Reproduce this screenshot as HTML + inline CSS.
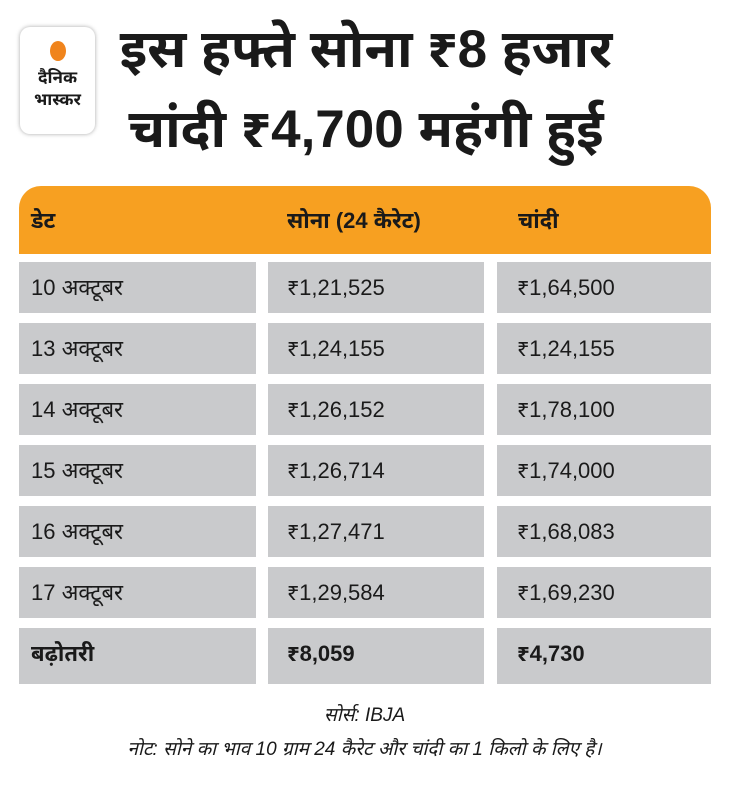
<!DOCTYPE html>
<html><head><meta charset="utf-8"><style>
body{margin:0;width:729px;height:792px;background:#fff;font-family:"Liberation Sans","Noto Sans Devanagari","Lohit Devanagari",sans-serif;position:relative;overflow:hidden;color:#1a1a1a}
.abs{position:absolute}
.logo{left:20px;top:27px;width:75px;height:107px;border-radius:10px;background:#fff;box-shadow:0 0 4px rgba(0,0,0,.35)}
.dot{left:30px;top:14px;width:16px;height:20px;border-radius:50%;background:#f0841c}
.lt{width:75px;text-align:center;font-weight:bold;font-size:17px;line-height:18px}
.title{left:60px;width:612px;text-align:center;font-weight:bold;font-size:53px;line-height:60px;white-space:nowrap}
.hdr{left:19px;top:186px;width:692px;height:68px;background:#f7a021;border-radius:22px 22px 0 0}
.h{top:208px;font-weight:bold;font-size:22px}
.cell{background:#c9cacc;height:51px;font-size:22px;line-height:51px;padding-left:12px;box-sizing:border-box}
.foot{width:729px;text-align:center;font-style:italic;font-size:19px}
</style></head><body>
<div class="abs logo">
 <div class="abs dot"></div>
 <div class="abs lt" style="top:42px">दैनिक</div>
 <div class="abs lt" style="top:64px">भास्कर</div>
</div>
<div class="abs title" style="top:20px">इस हफ्ते सोना ₹8 हजार</div>
<div class="abs title" style="top:100px">चांदी ₹4,700 महंगी हुई</div>
<div class="abs hdr"></div>
<div class="abs h" style="left:31px">डेट</div>
<div class="abs h" style="left:287px">सोना (24 कैरेट)</div>
<div class="abs h" style="left:518px">चांदी</div>
<div id="rows"></div>
<div class="abs foot" style="top:704px">सोर्स: IBJA</div>
<div class="abs foot" style="top:738px">नोट: सोने का भाव 10 ग्राम 24 कैरेट और चांदी का 1 किलो के लिए है।</div>
<script>
const dates=["10 अक्टूबर","13 अक्टूबर","14 अक्टूबर","15 अक्टूबर","16 अक्टूबर","17 अक्टूबर","बढ़ोतरी"];
const gold=["₹1,21,525","₹1,24,155","₹1,26,152","₹1,26,714","₹1,27,471","₹1,29,584","₹8,059"];
const silver=["₹1,64,500","₹1,24,155","₹1,78,100","₹1,74,000","₹1,68,083","₹1,69,230","₹4,730"];
const root=document.getElementById('rows');
const cols=[[19,237,12],[268,216,19],[497,214,20]];
dates.forEach((d,i)=>{
 const vals=[d,gold[i],silver[i]];
 vals.forEach((v,j)=>{
  const el=document.createElement('div');
  el.className='abs cell';
  el.style.left=cols[j][0]+'px';el.style.width=cols[j][1]+'px';el.style.paddingLeft=cols[j][2]+'px';
  el.style.top=(262+i*61)+'px';
  if(i===dates.length-1){el.style.fontWeight='bold';el.style.height='56px';}
  el.textContent=v;
  
  
  root.appendChild(el);
 });
});
</script>
</body></html>
